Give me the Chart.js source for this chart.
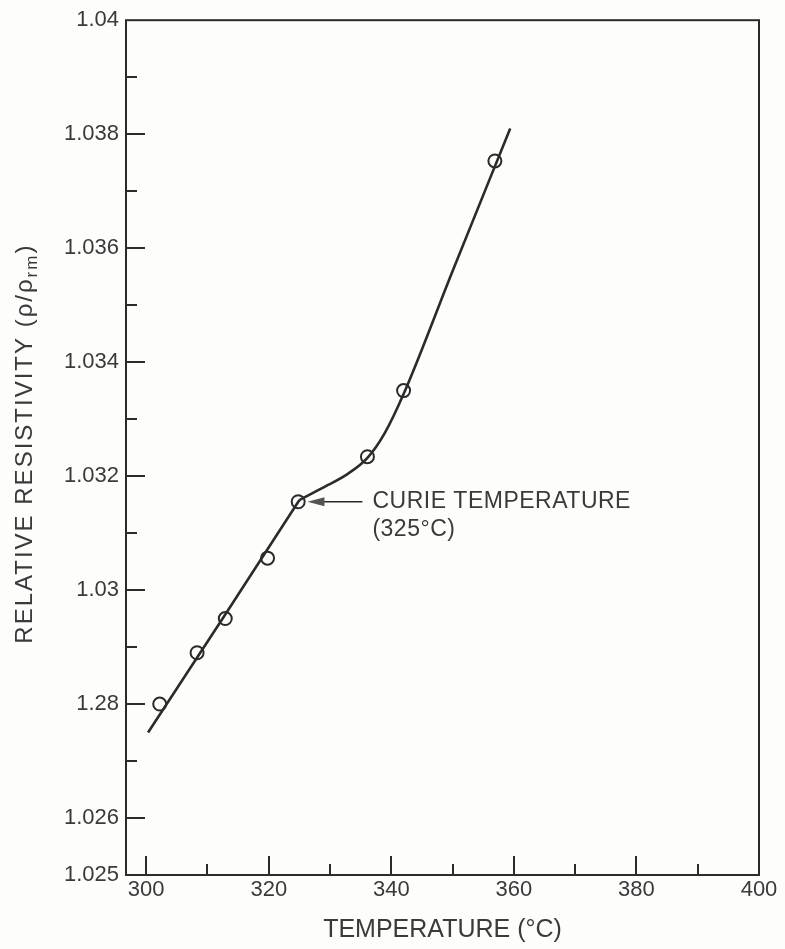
<!DOCTYPE html>
<html>
<head>
<meta charset="utf-8">
<script src="https://cdn.jsdelivr.net/npm/chart.js@4.4.1/dist/chart.umd.min.js"></script>
<style>
  html, body { margin: 0; padding: 0; background: #fdfdfc; }
  #resistivityChart { display: block; }
</style>
</head>
<body>
<canvas id="resistivityChart" width="785" height="949"></canvas>
<script>
// measured points (circles)
const temps = [302.2, 308.3, 312.9, 319.8, 324.8, 336.1, 342.0, 356.9];
const resistivity = [1.0280, 1.0289, 1.0295, 1.03056, 1.03155, 1.03234, 1.0335, 1.03753];

// drawn curve: straight part up to the Curie point, then the bend
const lowLineTemps = [300.3, 312.9, 325.0];
const lowLineValues = [1.0275, 1.02957, 1.03158];
const highLineTemps = [325.0, 329.6, 332.9, 336.1, 338.9, 342.0, 350.0, 359.4];
const highLineValues = [1.03158, 1.03184, 1.03204, 1.03232, 1.03275, 1.03344, 1.0356, 1.0381];

const xTicks = [300, 320, 340, 360, 380, 400];
const xMinorTicks = [310, 330, 350, 370, 390];
const yTicks = [1.04, 1.038, 1.036, 1.034, 1.032, 1.03, 1.028, 1.026, 1.025];
const yTickLabels = ['1.04', '1.038', '1.036', '1.034', '1.032', '1.03', '1.28', '1.026', '1.025'];
const yMinorTicks = [1.039, 1.037, 1.035, 1.033, 1.031, 1.029, 1.027];

const curieTemp = 325;
const curieValue = 1.03155;

const ink = '#2b2b2b';
const textInk = '#3a3a3a';
const font = "'Liberation Sans', Arial, sans-serif";

const toXY = (xs, ys) => xs.map((x, i) => ({ x: x, y: ys[i] }));

// frame, inward ticks, y title and the Curie note
const paperPlugin = {
    id: 'paper',
    afterDatasetsDraw(chart) {
        const { ctx, chartArea: a, scales: { x, y } } = chart;
        ctx.save();
        ctx.strokeStyle = ink;
        ctx.lineWidth = 2;
        ctx.strokeRect(a.left, a.top, a.right - a.left, a.bottom - a.top);

        ctx.beginPath();
        xTicks.filter(v => v < 400).forEach(v => {
            const px = Math.round(x.getPixelForValue(v));
            ctx.moveTo(px, a.bottom); ctx.lineTo(px, a.bottom - 19);
        });
        xMinorTicks.forEach(v => {
            const px = Math.round(x.getPixelForValue(v));
            ctx.moveTo(px, a.bottom); ctx.lineTo(px, a.bottom - 11);
        });
        yTicks.filter(v => v > 1.0255 && v < 1.0395).forEach(v => {
            const py = Math.round(y.getPixelForValue(v));
            ctx.moveTo(a.left, py); ctx.lineTo(a.left + 19, py);
        });
        yMinorTicks.forEach(v => {
            const py = Math.round(y.getPixelForValue(v));
            ctx.moveTo(a.left, py); ctx.lineTo(a.left + 11, py);
        });
        ctx.stroke();

        // Curie arrow + text
        const cx = x.getPixelForValue(curieTemp);
        const cy = y.getPixelForValue(curieValue);
        ctx.lineWidth = 1.5;
        ctx.beginPath();
        ctx.moveTo(cx + 20, cy);
        ctx.lineTo(cx + 63, cy);
        ctx.stroke();
        ctx.fillStyle = '#555';
        ctx.beginPath();
        ctx.moveTo(cx + 8, cy);
        ctx.lineTo(cx + 25, cy - 4.5);
        ctx.lineTo(cx + 25, cy + 4.5);
        ctx.closePath();
        ctx.fill();

        ctx.fillStyle = textInk;
        ctx.font = '23px ' + font;
        ctx.letterSpacing = '0.5px';
        ctx.textAlign = 'left';
        ctx.textBaseline = 'middle';
        ctx.fillText('CURIE TEMPERATURE', cx + 73, cy);
        ctx.fillText('(325\u00b0C)', cx + 73, cy + 28);

        // y title, rotated, with subscript
        ctx.translate(25, (a.top + a.bottom) / 2);
        ctx.rotate(-Math.PI / 2);
        ctx.letterSpacing = '2px';
        const main = 'RELATIVE RESISTIVITY (\u03c1/\u03c1';
        ctx.font = '24px ' + font;
        const w1 = ctx.measureText(main).width;
        ctx.font = '17px ' + font;
        const w2 = ctx.measureText('rm').width;
        ctx.font = '24px ' + font;
        const w3 = ctx.measureText(')').width;
        let tx = -(w1 + w2 + w3) / 2 + 4;
        ctx.fillText(main, tx, 0);
        tx += w1;
        ctx.font = '17px ' + font;
        ctx.fillText('rm', tx, 7);
        tx += w2;
        ctx.font = '24px ' + font;
        ctx.fillText(')', tx, 0);
        ctx.restore();
    }
};

new Chart(document.getElementById('resistivityChart'), {
    type: 'scatter',
    data: {
        datasets: [{
            label: 'fit below Curie',
            data: toXY(lowLineTemps, lowLineValues),
            showLine: true,
            borderColor: ink,
            borderWidth: 2.6,
            pointRadius: 0,
            tension: 0
        }, {
            label: 'fit above Curie',
            data: toXY(highLineTemps, highLineValues),
            showLine: true,
            borderColor: ink,
            borderWidth: 2.6,
            pointRadius: 0,
            cubicInterpolationMode: 'monotone'
        }, {
            label: 'measured',
            data: toXY(temps, resistivity),
            showLine: false,
            pointRadius: 6.5,
            pointBorderWidth: 2,
            pointBorderColor: ink,
            pointBackgroundColor: '#fdfdfc'
        }]
    },
    options: {
        responsive: false,
        animation: false,
        devicePixelRatio: 1,
        layout: { padding: { top: 17, right: 26, left: 0, bottom: 0 } },
        plugins: {
            legend: { display: false },
            tooltip: { enabled: false }
        },
        scales: {
            x: {
                type: 'linear',
                min: 296.7,
                max: 400,
                afterBuildTicks: s => { s.ticks = xTicks.map(v => ({ value: v })); },
                afterFit: s => { s.height = 74; },
                grid: { display: false, drawTicks: false },
                border: { display: false },
                ticks: {
                    autoSkip: false,
                    maxRotation: 0,
                    padding: 2,
                    color: textInk,
                    font: { family: font, size: 22 },
                    callback: v => String(v)
                },
                title: {
                    display: true,
                    text: 'TEMPERATURE (\u00b0C)',
                    color: textInk,
                    font: { family: font, size: 25 },
                    padding: { top: 0, bottom: 4 }
                }
            },
            y: {
                type: 'linear',
                min: 1.025,
                max: 1.04,
                afterBuildTicks: s => { s.ticks = yTicks.map(v => ({ value: v })); },
                afterFit: s => { s.width = 126; },
                grid: { display: false, drawTicks: false },
                border: { display: false },
                ticks: {
                    autoSkip: false,
                    padding: 7,
                    color: textInk,
                    font: { family: font, size: 22 },
                    callback: v => {
                        const i = yTicks.findIndex(t => Math.abs(t - v) < 1e-7);
                        return i >= 0 ? yTickLabels[i] : '';
                    }
                }
            }
        }
    },
    plugins: [paperPlugin]
});
</script>
</body>
</html>
